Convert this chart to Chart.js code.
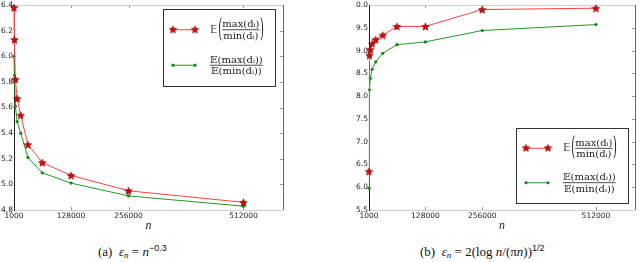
<!DOCTYPE html>
<html>
<head>
<meta charset="utf-8">
<script src="https://cdn.jsdelivr.net/npm/chart.js@4.4.0/dist/chart.umd.min.js"></script>
<style>
  body { margin: 0; background: #fff; width: 640px; height: 262px; overflow: hidden; position: relative; font-family: "Liberation Serif", serif; }
  .panel { position: absolute; top: 0; width: 320px; height: 235px; }
  .caption { position: absolute; top: 243px; font-size: 13px; white-space: nowrap; color: #111; }
  .caption sub { font-size: 9px; vertical-align: -2px; }
  .caption sup { font-size: 9px; font-family: "Liberation Sans", sans-serif; vertical-align: 5px; }
</style>
</head>
<body>
<div class="panel" style="left:0"><canvas id="chartA" width="320" height="235"></canvas></div>
<div class="panel" style="left:320px"><canvas id="chartB" width="320" height="235"></canvas></div>
<div class="caption" style="left:98px">(a)&nbsp; <i>ε<sub>n</sub></i> = <i>n</i><sup>−0.3</sup></div>
<div class="caption" style="left:420px">(b)&nbsp; <i>ε<sub>n</sub></i> = 2(log <i>n</i>/(π<i>n</i>))<sup>1/2</sup></div>
<script>
// sample sizes n (x axis)
const nValues = [1000, 2000, 4000, 8000, 16000, 32000, 64000, 128000, 256000, 512000];
const xTickValues = [1000, 128000, 256000, 512000];

// (a) eps_n = n^-0.3
const ratioA = [6.38, 6.13, 5.82, 5.67, 5.54, 5.31, 5.17, 5.07, 4.95, 4.86];
const expRatioA = [6.00, 5.85, 5.61, 5.49, 5.40, 5.21, 5.09, 5.01, 4.91, 4.83];

// (b) eps_n = 2(log n/(pi n))^1/2
const ratioB = [6.35, 8.90, 9.02, 9.15, 9.24, 9.34, 9.53, 9.53, 9.90, 9.93];
const expRatioB = [5.98, 8.14, 8.39, 8.59, 8.75, 8.94, 9.13, 9.19, 9.44, 9.57];

const legendTop = ['𝔼', 'max(dᵢ)', 'min(dᵢ)'];
const legendBottom = ['𝔼(max(dᵢ))', '𝔼(min(dᵢ))'];

function makeStar(size) {
    const c = document.createElement('canvas');
    c.width = size;
    c.height = size;
    const g = c.getContext('2d');
    const R = size / 2 - 0.5, r = R * 0.45, cx = size / 2, cy = size / 2 + 0.5;
    g.beginPath();
    for (let i = 0; i < 10; i++) {
        const rad = i % 2 ? r : R;
        const a = -Math.PI / 2 + i * Math.PI / 5;
        g.lineTo(cx + rad * Math.cos(a), cy + rad * Math.sin(a));
    }
    g.closePath();
    g.fillStyle = '#e00000';
    g.fill();
    g.strokeStyle = '#600';
    g.lineWidth = 0.6;
    g.stroke();
    return c;
}
const star = makeStar(9);

// matplotlib-like box with inward ticks
const framePlugin = {
    id: 'frame',
    beforeDatasetsDraw(chart) {
        const ctx = chart.ctx;
        const a = chart.chartArea;
        const xs = chart.scales.x, ys = chart.scales.y;
        ctx.save();
        ctx.strokeStyle = '#999';
        ctx.lineWidth = 1;
        xs.ticks.forEach(t => {
            const px = Math.round(xs.getPixelForValue(t.value)) + 0.5;
            ctx.beginPath();
            ctx.moveTo(px, a.top); ctx.lineTo(px, a.top + 3);
            ctx.moveTo(px, a.bottom); ctx.lineTo(px, a.bottom - 3);
            ctx.stroke();
        });
        ys.ticks.forEach(t => {
            const py = Math.round(ys.getPixelForValue(t.value)) + 0.5;
            ctx.beginPath();
            ctx.moveTo(a.right, py); ctx.lineTo(a.right - 3, py);
            ctx.stroke();
        });
        ctx.strokeStyle = '#ccc';
        ctx.beginPath();
        ctx.moveTo(a.left, a.top + 0.5); ctx.lineTo(a.right, a.top + 0.5);
        ctx.moveTo(a.left, a.bottom + 0.5); ctx.lineTo(a.right, a.bottom + 0.5);
        ctx.stroke();
        ctx.strokeStyle = '#666';
        ctx.beginPath();
        ctx.moveTo(a.right + 0.5, a.top); ctx.lineTo(a.right + 0.5, a.bottom);
        ctx.stroke();
        ctx.strokeStyle = '#222';
        ctx.lineWidth = 1;
        ctx.beginPath();
        ctx.moveTo(Math.round(a.left) + 0.5, a.top); ctx.lineTo(Math.round(a.left) + 0.5, a.bottom + 1);
        ctx.stroke();
        ctx.restore();
    }
};

function drawFrac(ctx, num, den, x, cy) {
    const w = Math.max(ctx.measureText(num).width, ctx.measureText(den).width);
    ctx.textAlign = 'center';
    ctx.textBaseline = 'alphabetic';
    ctx.fillText(num, x + w / 2, cy - 2.5);
    ctx.fillText(den, x + w / 2, cy + 9);
    ctx.fillRect(x, cy - 0.4, w, 0.8);
    return w;
}

function drawParen(ctx, ch, x, cy) {
    ctx.save();
    ctx.translate(x, cy);
    ctx.scale(1, 2.6);
    ctx.textAlign = 'left';
    ctx.textBaseline = 'middle';
    ctx.fillText(ch, 0, 0);
    const w = ctx.measureText(ch).width;
    ctx.restore();
    return w;
}

const mathLegend = {
    id: 'mathLegend',
    afterDraw(chart, args, opts) {
        const ctx = chart.ctx;
        const a = chart.chartArea;
        const bx = a.right - opts.right - opts.w;
        const by = opts.top !== undefined ? a.top + opts.top : a.bottom - opts.bottom - opts.h;
        ctx.save();
        ctx.fillStyle = '#fff';
        ctx.fillRect(bx, by, opts.w, opts.h);
        ctx.strokeStyle = '#333';
        ctx.lineWidth = 1;
        ctx.strokeRect(Math.round(bx) + 0.5, Math.round(by) + 0.5, opts.w, opts.h);

        const y1 = by + opts.h * 0.27, y2 = by + opts.h * 0.73;
        const lx0 = bx + 10, lx1 = bx + 32;
        ctx.strokeStyle = '#ff4040';
        ctx.beginPath(); ctx.moveTo(lx0, y1); ctx.lineTo(lx1, y1); ctx.stroke();
        ctx.drawImage(star, lx0 - 4.5, y1 - 5);
        ctx.drawImage(star, lx1 - 4.5, y1 - 5);
        ctx.strokeStyle = '#229922';
        ctx.beginPath(); ctx.moveTo(lx0, y2); ctx.lineTo(lx1, y2); ctx.stroke();
        ctx.fillStyle = '#118811';
        [lx0, lx1].forEach(px => { ctx.beginPath(); ctx.arc(px, y2, 1.6, 0, Math.PI * 2); ctx.fill(); });

        ctx.fillStyle = '#222';
        ctx.font = '10px "DejaVu Serif", serif';
        let x = bx + 47;
        ctx.textAlign = 'left';
        ctx.textBaseline = 'middle';
        ctx.font = '10px "DejaVu Sans", sans-serif';
        ctx.fillText(legendTop[0], x, y1 + 0.5);
        x += ctx.measureText(legendTop[0]).width + 1;
        ctx.font = '10px "DejaVu Serif", serif';
        x += drawParen(ctx, '(', x, y1);
        x += drawFrac(ctx, legendTop[1], legendTop[2], x, y1) + 0.5;
        drawParen(ctx, ')', x, y1);

        drawFrac(ctx, legendBottom[0], legendBottom[1], bx + 47, y2);
        ctx.restore();
    }
};

function buildChart(id, red, green, yMin, yMax, yStep, legendOpts, leftPad) {
    const ctx = document.getElementById(id).getContext('2d');
    return new Chart(ctx, {
        type: 'line',
        data: {
            labels: nValues,
            datasets: [{
                data: nValues.map((n, i) => ({ x: n, y: red[i] })),
                borderColor: '#ff4040',
                borderWidth: 1,
                pointStyle: star,
                pointRadius: 4,
                clip: false
            }, {
                data: nValues.map((n, i) => ({ x: n, y: green[i] })),
                borderColor: '#229922',
                borderWidth: 1,
                pointStyle: 'circle',
                pointRadius: 1.6,
                pointBackgroundColor: '#118811',
                pointBorderWidth: 0,
                clip: false
            }]
        },
        options: {
            responsive: false,
            animation: false,
            events: [],
            layout: { padding: { left: leftPad, right: legendOpts.padRight, top: 3, bottom: 0 } },
            plugins: {
                legend: { display: false },
                tooltip: { enabled: false },
                mathLegend: legendOpts
            },
            scales: {
                x: {
                    type: 'linear',
                    min: 1000,
                    max: 600000,
                    grid: { display: false, drawTicks: false },
                    border: { display: false },
                    afterBuildTicks: s => { s.ticks = xTickValues.map(v => ({ value: v })); },
                    afterFit: s => { s.height = 25; s.paddingLeft = 0; s.paddingRight = 0; },
                    ticks: {
                        autoSkip: false,
                        maxRotation: 0,
                        padding: 2,
                        color: '#222',
                        font: { family: '"DejaVu Sans", sans-serif', size: 7.5 },
                        callback: v => String(v)
                    },
                    title: {
                        display: true,
                        text: 'n',
                        color: '#222',
                        padding: { top: 0, bottom: 2 },
                        font: { family: '"Liberation Serif", serif', size: 12, style: 'italic' }
                    }
                },
                y: {
                    min: yMin,
                    max: yMax,
                    grid: { display: false, drawTicks: false },
                    border: { display: false },
                    afterFit: s => { s.width = 14; s.paddingTop = 0; s.paddingBottom = 0; },
                    ticks: {
                        stepSize: yStep,
                        padding: 1,
                        color: '#222',
                        font: { family: '"DejaVu Sans", sans-serif', size: 7.5 },
                        callback: v => v.toFixed(1)
                    }
                }
            }
        },
        plugins: [framePlugin, mathLegend]
    });
}

buildChart('chartA', ratioA, expRatioA, 4.8, 6.4, 0.2,
    { w: 112, h: 77, right: 8, top: 4, padRight: 37 }, 0);
buildChart('chartB', ratioB, expRatioB, 5.5, 10.0, 0.5,
    { w: 112, h: 75, right: 7, bottom: 7, padRight: 1 }, 35);
</script>
</body>
</html>
